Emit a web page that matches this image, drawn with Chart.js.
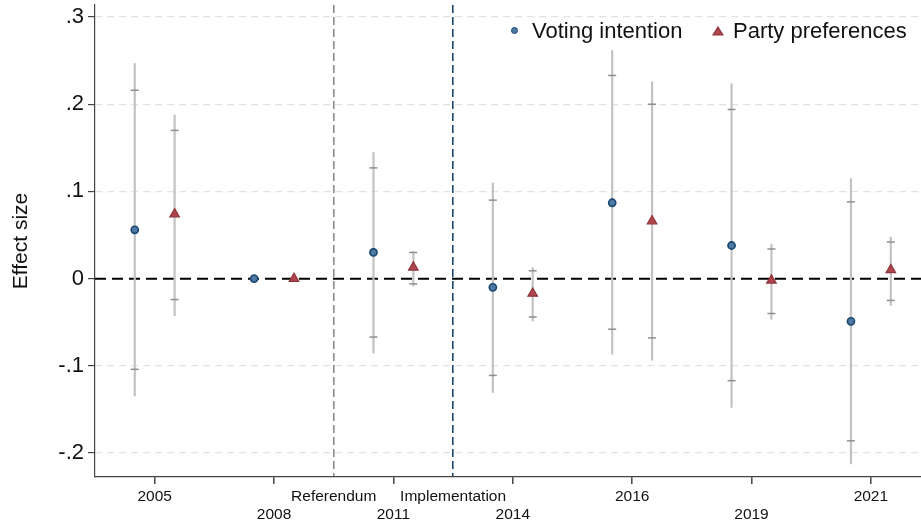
<!DOCTYPE html>
<html lang="en">
<head>
    <meta charset="UTF-8">
    <title>Effect size by year</title>
    <script src="https://cdn.jsdelivr.net/npm/chart.js"></script>
    <style>
        body {
            margin: 0;
            font-family: "Liberation Sans", Arial, sans-serif;
            background: #fff;
        }
        #wrap {
            position: relative;
            width: 921px;
            height: 523px;
        }
        #legend {
            position: absolute;
            top: 18px;
            left: 0;
            width: 921px;
            height: 26px;
            font-size: 22px;
            color: #111;
        }
        #legend span {
            position: absolute;
            top: 0;
            line-height: 26px;
            white-space: nowrap;
        }
        .dot {
            position: absolute;
            width: 5px;
            height: 5px;
            border-radius: 50%;
            background: #4d7aa5;
            border: 1.5px solid #1a476f;
        }
    </style>
</head>
<body>
<div id="wrap">
    <canvas id="chart" width="921" height="523"></canvas>
    <div id="legend">
        <div class="dot" style="left:511px; top:9px;"></div>
        <span style="left:532px;">Voting intention</span>
        <svg style="position:absolute; left:712px; top:8px;" width="12" height="10">
            <polygon points="6,1 11,9 1,9" fill="#b0464d" stroke="#90353b" stroke-width="1.2"/>
        </svg>
        <span style="left:733px;">Party preferences</span>
    </div>
</div>

<script>
    // 調査年（カテゴリ）と出来事の位置
    const years = ['2005', '2008', '2011', '2014', '2016', '2019', '2021'];
    const events = ['Referendum', 'Implementation'];
    const eventAfter = [1, 2];   // 出来事は years[i] と years[i+1] の間

    // Voting intention
    const voting     = [0.056, 0, 0.030, -0.010, 0.087, 0.038, -0.049];
    const votingLo95 = [-0.135, null, -0.086, -0.131, -0.087, -0.148, -0.213];
    const votingHi95 = [0.247, null, 0.145, 0.110, 0.262, 0.224, 0.115];
    const votingLo90 = [-0.104, null, -0.067, -0.111, -0.058, -0.117, -0.186];
    const votingHi90 = [0.216, null, 0.127, 0.090, 0.233, 0.194, 0.088];

    // Party preferences
    const party     = [0.074, 0, 0.013, -0.017, 0.066, -0.002, 0.010];
    const partyLo95 = [-0.043, null, -0.009, -0.049, -0.094, -0.047, -0.031];
    const partyHi95 = [0.188, null, 0.031, 0.013, 0.226, 0.040, 0.048];
    const partyLo90 = [-0.024, null, -0.006, -0.044, -0.068, -0.040, -0.025];
    const partyHi90 = [0.170, null, 0.030, 0.009, 0.200, 0.034, 0.042];

    // y 軸の目盛り
    const yTickValues = [-0.2, -0.1, 0, 0.1, 0.2, 0.3];
    const yTickLabels = ['-.2', '-.1', '0', '.1', '.2', '.3'];

    const xMin = -0.5, xMax = 6.42;
    const yMin = -0.2275, yMax = 0.3138;
    const shift = 0.167;

    // x 軸の目盛り位置とラベル（年と出来事を交互に並べる）
    const xTicks = [];
    years.forEach((y, i) => {
        xTicks.push({ value: i, label: y, kind: 'year' });
        const e = eventAfter.indexOf(i);
        if (e >= 0) xTicks.push({ value: i + 0.5, label: events[e], kind: events[e] });
    });
    xTicks.sort((a, b) => a.value - b.value);

    function points(vals, off) {
        return vals.map((v, i) => ({ x: i + off, y: v }));
    }
    function caps(lo, hi, off) {
        const out = [];
        lo.forEach((v, i) => {
            if (v === null) return;
            out.push({ x: i + off, y: v });
            out.push({ x: i + off, y: hi[i] });
        });
        return out;
    }
    function bars(lo, hi, off) {
        const out = [];
        lo.forEach((v, i) => {
            if (v === null) return;
            out.push({ x: i + off, y: v });
            out.push({ x: i + off, y: hi[i] });
            out.push({ x: i + off, y: null });
        });
        return out;
    }

    const font = '"Liberation Sans", Arial, sans-serif';

    new Chart(document.getElementById('chart'), {
        type: 'scatter',
        data: {
            datasets: [
                {
                    label: 'Voting intention',
                    data: points(voting, -shift),
                    pointStyle: 'circle',
                    pointRadius: 3.6,
                    backgroundColor: '#4d7aa5',
                    borderColor: '#1a476f',
                    borderWidth: 1.6
                },
                {
                    label: 'Party preferences',
                    data: points(party, shift),
                    pointStyle: 'triangle',
                    pointRadius: 5.5,
                    backgroundColor: '#b0464d',
                    borderColor: '#90353b',
                    borderWidth: 1.2
                },
                {
                    data: caps(votingLo90, votingHi90, -shift),
                    pointStyle: 'line',
                    pointRadius: 4,
                    borderColor: '#8f8f8f',
                    borderWidth: 1.5
                },
                {
                    data: caps(partyLo90, partyHi90, shift),
                    pointStyle: 'line',
                    pointRadius: 4,
                    borderColor: '#8f8f8f',
                    borderWidth: 1.5
                },
                {
                    type: 'line',
                    data: bars(votingLo95, votingHi95, -shift),
                    borderColor: '#c2c2c2',
                    borderWidth: 2.2,
                    pointRadius: 0,
                    spanGaps: false
                },
                {
                    type: 'line',
                    data: bars(partyLo95, partyHi95, shift),
                    borderColor: '#c2c2c2',
                    borderWidth: 2.2,
                    pointRadius: 0,
                    spanGaps: false
                },
                {
                    // ゼロの基準線
                    type: 'line',
                    data: [{ x: xMin, y: 0 }, { x: xMax, y: 0 }],
                    borderColor: '#000',
                    borderWidth: 2,
                    borderDash: [11, 6],
                    pointRadius: 0
                }
            ]
        },
        options: {
            responsive: false,
            animation: false,
            events: [],
            layout: { autoPadding: false, padding: { top: 5, right: 0, bottom: 0, left: 0 } },
            plugins: {
                legend: { display: false },
                tooltip: { enabled: false }
            },
            scales: {
                x: {
                    type: 'linear',
                    min: xMin,
                    max: xMax,
                    afterBuildTicks: (scale) => {
                        scale.ticks = xTicks.map(t => ({ value: t.value }));
                    },
                    afterFit: (scale) => {
                        scale.height = 46;
                        scale.paddingLeft = 0;
                        scale.paddingRight = 0;
                    },
                    ticks: {
                        autoSkip: false,
                        maxRotation: 0,
                        minRotation: 0,
                        padding: 3,
                        color: '#111',
                        font: { family: font, size: 15.5 },
                        callback: (value, index) => {
                            const t = xTicks[index];
                            return index % 2 === 0 ? [t.label, ''] : ['', t.label];
                        }
                    },
                    grid: {
                        color: (ctx) => {
                            const t = xTicks[ctx.index];
                            if (!t) return 'rgba(0,0,0,0)';
                            if (t.kind === 'Referendum') return '#8c8c8c';
                            if (t.kind === 'Implementation') return '#1a476f';
                            return 'rgba(0,0,0,0)';
                        },
                        lineWidth: 1.6,
                        tickColor: (ctx) => {
                            const t = xTicks[ctx.index];
                            return t && t.kind === 'year' ? '#444' : 'rgba(0,0,0,0)';
                        },
                        tickLength: 7,
                        tickWidth: 1.5
                    },
                    border: { color: '#444', width: 1.2, dash: [8, 4] }
                },
                y: {
                    min: yMin,
                    max: yMax,
                    afterBuildTicks: (scale) => {
                        scale.ticks = yTickValues.map(v => ({ value: v }));
                    },
                    afterFit: (scale) => {
                        scale.width = 95;
                        scale.paddingTop = 0;
                        scale.paddingBottom = 0;
                    },
                    ticks: {
                        padding: 4,
                        color: '#111',
                        font: { family: font, size: 22 },
                        callback: (value, index) => yTickLabels[index]
                    },
                    grid: {
                        color: (ctx) => (ctx.tick && ctx.tick.value === 0) ? 'rgba(0,0,0,0)' : '#e2e2e2',
                        lineWidth: 1.2,
                        tickColor: '#444',
                        tickLength: 7,
                        tickWidth: 1.2
                    },
                    border: { color: '#444', width: 1.2, dash: [7, 5] },
                    title: {
                        display: true,
                        text: 'Effect size',
                        color: '#111',
                        font: { family: font, size: 21 },
                        padding: { top: 9, bottom: 0 }
                    }
                }
            }
        }
    });
</script>
</body>
</html>
